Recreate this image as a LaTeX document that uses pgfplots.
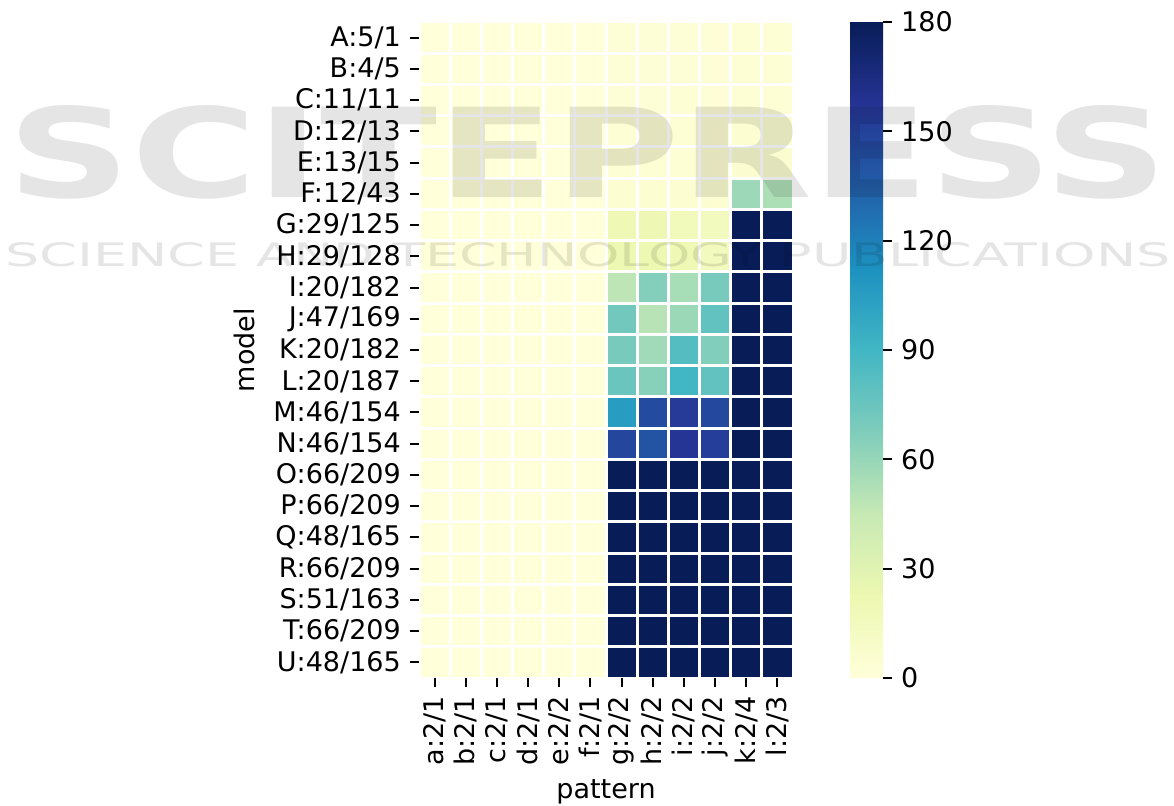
\documentclass[border=0pt]{standalone}
\usepackage{fontspec}
\setmainfont{DejaVu Sans}
\usepackage{graphicx}
\usepackage{pgfplots}
\pgfplotsset{compat=1.18}
\begin{document}
\fontsize{27}{32}\selectfont
\begin{tikzpicture}[font=\fontsize{27}{32}\selectfont]
\useasboundingbox (0pt,0pt) rectangle (1174pt,805pt);
\begin{axis}[
  at={(419pt,127pt)}, anchor=south west,
  scale only axis, width=374pt, height=656pt,
  xmin=-0.5, xmax=11.5, ymin=-0.5, ymax=20.5,
  y dir=reverse, enlargelimits=false,
  colormap={ylgnbu}{rgb255=(255,255,217) rgb255=(237,248,177) rgb255=(199,233,180) rgb255=(127,205,187) rgb255=(65,182,196) rgb255=(29,145,192) rgb255=(34,94,168) rgb255=(37,52,148) rgb255=(8,29,88)},
  point meta min=0, point meta max=180,
  xtick={0,...,11},
  xticklabels={a:2/1,b:2/1,c:2/1,d:2/1,e:2/2,f:2/1,g:2/2,h:2/2,i:2/2,j:2/2,k:2/4,l:2/3},
  ytick={0,...,20},
  yticklabels={A:5/1,B:4/5,C:11/11,D:12/13,E:13/15,F:12/43,G:29/125,H:29/128,I:20/182,J:47/169,K:20/182,L:20/187,M:46/154,N:46/154,O:66/209,P:66/209,Q:48/165,R:66/209,S:51/163,T:66/209,U:48/165},
  minor xtick={-0.5,0.5,...,11.5},
  minor ytick={-0.5,0.5,...,20.5},
  minor tick length=0pt,
  grid=minor,
  minor grid style={white, line width=3pt},
  axis on top,
  axis line style={draw=none},
  xtick pos=bottom, ytick pos=left,
  tick align=outside,
  major tick length=9pt,
  major tick style={black, line width=2pt},
  xticklabel style={rotate=90, anchor=east, font=\fontsize{27}{32}\selectfont},
  yticklabel style={font=\fontsize{27}{32}\selectfont},
  xlabel={pattern}, ylabel={model},
  label style={font=\fontsize{27}{32}\selectfont},
  xlabel style={yshift=5pt},
  colorbar,
  colorbar/width=33pt,
  colorbar style={
    at={(parent axis.north east)}, anchor=north west, xshift=57pt,
    ytick={0,30,60,90,120,150,180},
    yticklabels={0,30,60,90,120,150,180},
    ytick pos=right, yticklabel pos=right,
    tick align=outside,
    major tick length=9pt,
    major tick style={black, line width=2pt},
    axis line style={draw=none},
    yticklabel style={font=\fontsize{27}{32}\selectfont},
  },
  colorbar shift/.style={},
]
\addplot[matrix plot*, mesh/cols=12, point meta=explicit] coordinates {
(0,0)[0] (1,0)[0] (2,0)[0] (3,0)[0] (4,0)[0] (5,0)[0] (6,0)[2] (7,0)[2] (8,0)[2] (9,0)[2] (10,0)[3] (11,0)[3]
(0,1)[0] (1,1)[0] (2,1)[0] (3,1)[0] (4,1)[0] (5,1)[0] (6,1)[2] (7,1)[2] (8,1)[2] (9,1)[2] (10,1)[3] (11,1)[3]
(0,2)[0] (1,2)[0] (2,2)[0] (3,2)[0] (4,2)[0] (5,2)[0] (6,2)[2] (7,2)[2] (8,2)[3] (9,2)[2] (10,2)[3] (11,2)[3]
(0,3)[0] (1,3)[0] (2,3)[0] (3,3)[0] (4,3)[0] (5,3)[0] (6,3)[3] (7,3)[3] (8,3)[3] (9,3)[3] (10,3)[4] (11,3)[4]
(0,4)[0] (1,4)[0] (2,4)[0] (3,4)[0] (4,4)[0] (5,4)[0] (6,4)[3] (7,4)[3] (8,4)[3] (9,4)[3] (10,4)[5] (11,4)[5]
(0,5)[0] (1,5)[0] (2,5)[0] (3,5)[0] (4,5)[0] (5,5)[0] (6,5)[4] (7,5)[4] (8,5)[4] (9,5)[4] (10,5)[58] (11,5)[53]
(0,6)[0] (1,6)[0] (2,6)[0] (3,6)[0] (4,6)[0] (5,6)[0] (6,6)[20] (7,6)[21] (8,6)[17] (9,6)[16] (10,6)[180] (11,6)[180]
(0,7)[0] (1,7)[0] (2,7)[0] (3,7)[0] (4,7)[0] (5,7)[0] (6,7)[22] (7,7)[22] (8,7)[20] (9,7)[15] (10,7)[180] (11,7)[180]
(0,8)[0] (1,8)[0] (2,8)[0] (3,8)[0] (4,8)[0] (5,8)[0] (6,8)[48] (7,8)[66] (8,8)[55] (9,8)[70] (10,8)[180] (11,8)[180]
(0,9)[0] (1,9)[0] (2,9)[0] (3,9)[0] (4,9)[0] (5,9)[0] (6,9)[72] (7,9)[50] (8,9)[59] (9,9)[78] (10,9)[180] (11,9)[180]
(0,10)[0] (1,10)[0] (2,10)[0] (3,10)[0] (4,10)[0] (5,10)[0] (6,10)[70] (7,10)[57] (8,10)[83] (9,10)[67] (10,10)[180] (11,10)[180]
(0,11)[0] (1,11)[0] (2,11)[0] (3,11)[0] (4,11)[0] (5,11)[0] (6,11)[75] (7,11)[65] (8,11)[90] (9,11)[78] (10,11)[180] (11,11)[180]
(0,12)[0] (1,12)[0] (2,12)[0] (3,12)[0] (4,12)[0] (5,12)[0] (6,12)[105] (7,12)[145] (8,12)[154] (9,12)[147] (10,12)[180] (11,12)[180]
(0,13)[0] (1,13)[0] (2,13)[0] (3,13)[0] (4,13)[0] (5,13)[0] (6,13)[148] (7,13)[141] (8,13)[157] (9,13)[152] (10,13)[180] (11,13)[180]
(0,14)[0] (1,14)[0] (2,14)[0] (3,14)[0] (4,14)[0] (5,14)[0] (6,14)[180] (7,14)[180] (8,14)[180] (9,14)[180] (10,14)[180] (11,14)[180]
(0,15)[0] (1,15)[0] (2,15)[0] (3,15)[0] (4,15)[0] (5,15)[0] (6,15)[180] (7,15)[180] (8,15)[180] (9,15)[180] (10,15)[180] (11,15)[180]
(0,16)[0] (1,16)[0] (2,16)[0] (3,16)[0] (4,16)[0] (5,16)[0] (6,16)[180] (7,16)[180] (8,16)[180] (9,16)[180] (10,16)[180] (11,16)[180]
(0,17)[0] (1,17)[0] (2,17)[0] (3,17)[0] (4,17)[0] (5,17)[0] (6,17)[180] (7,17)[180] (8,17)[180] (9,17)[180] (10,17)[180] (11,17)[180]
(0,18)[0] (1,18)[0] (2,18)[0] (3,18)[0] (4,18)[0] (5,18)[0] (6,18)[180] (7,18)[180] (8,18)[180] (9,18)[180] (10,18)[180] (11,18)[180]
(0,19)[0] (1,19)[0] (2,19)[0] (3,19)[0] (4,19)[0] (5,19)[0] (6,19)[180] (7,19)[180] (8,19)[180] (9,19)[180] (10,19)[180] (11,19)[180]
(0,20)[0] (1,20)[0] (2,20)[0] (3,20)[0] (4,20)[0] (5,20)[0] (6,20)[180] (7,20)[180] (8,20)[180] (9,20)[180] (10,20)[180] (11,20)[180]
};
\end{axis}
% faint publisher watermark over the figure
\node[inner sep=0pt, text=black, text opacity=0.10] at (588pt,653pt)
  {\resizebox{1160pt}{92pt}{\bfseries SCITEPRESS}};
\node[inner sep=0pt, text=black, text opacity=0.10] at (588pt,550pt)
  {\resizebox{1165pt}{24pt}{SCIENCE AND TECHNOLOGY PUBLICATIONS}};
\end{tikzpicture}
\end{document}
